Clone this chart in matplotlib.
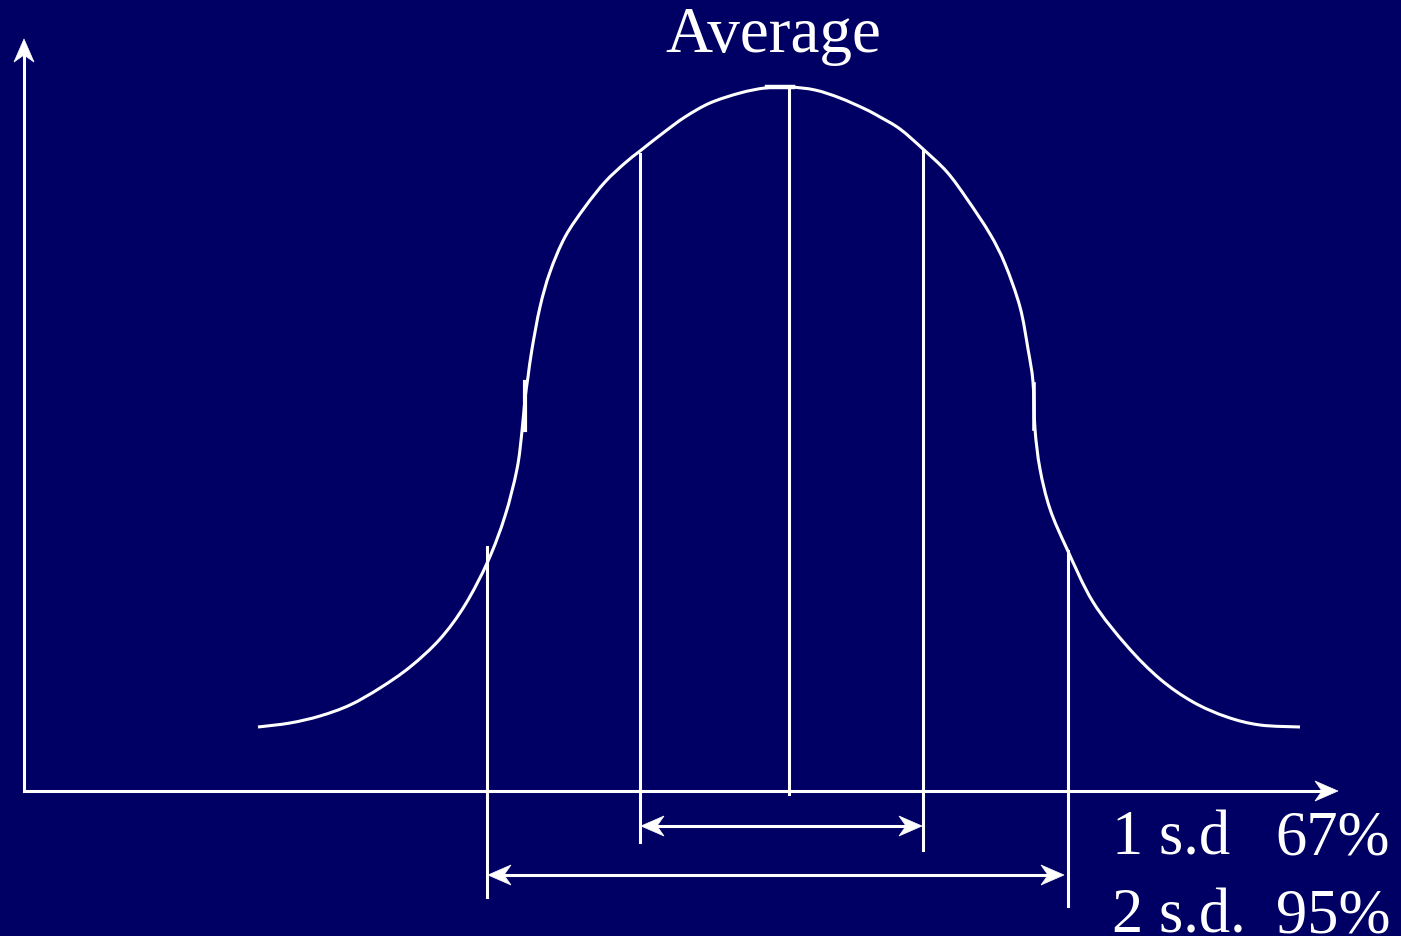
import matplotlib
matplotlib.use("Agg")
import matplotlib.pyplot as plt
from matplotlib.patches import Polygon, PathPatch
from matplotlib.path import Path

plt.rcParams['font.family'] = ['Liberation Serif', 'DejaVu Serif']

BG = '#000064'
FG = 'white'
LW = 2.2

# traced outline of the hand-drawn bell curve (x right, y down)
curve_x = [258, 290, 320, 350, 380, 410, 440, 465, 488, 505, 517, 522, 525,
           528, 532, 540, 550, 565, 585, 605, 625, 640, 663, 685, 710, 740,
           765, 789, 815, 840, 865, 880, 900, 923, 947, 967, 990, 1005, 1020,
           1028, 1033, 1035, 1040, 1050, 1067, 1093, 1127, 1160, 1193, 1227,
           1260, 1300]
curve_y = [728, 724, 717, 706, 689, 668, 640, 606, 562, 517, 470, 432, 400,
           378, 350, 308, 273, 238, 208, 183, 164, 152, 134, 118, 104, 94,
           89, 88, 91, 99, 110, 118, 130, 150, 173, 200, 235, 265, 308,
           350, 383, 430, 470, 510, 550, 603, 647, 680, 703, 718,
           726, 728]

# axes of the diagram
origin = (24, 792)
y_axis_top = 40
x_axis_end = 1338

# vertical markers: mean, one and two standard deviations
mean_x = 789
mean_span = (88, 795)
sd1_x = [640, 923]
sd1_top = [155, 152]
sd1_bottom = [843, 851]
sd2_x = [487, 1068]
sd2_top = [548, 552]
sd2_bottom = [898, 907]

# double-headed range arrows
sd1_arrow = (641, 922, 827)
sd2_arrow = (488, 1064, 876)

labels_left = ['1 s.d', '2 s.d.']
labels_right = ['67%', '95%']
label_base = [855, 933]


def smooth_path(xs, ys):
    # Catmull-Rom through the traced points, as cubic Bezier segments
    pts = list(zip(xs, ys))
    verts = [pts[0]]
    codes = [Path.MOVETO]
    n = len(pts)
    for i in range(n - 1):
        p0 = pts[max(i - 1, 0)]
        p1 = pts[i]
        p2 = pts[i + 1]
        p3 = pts[min(i + 2, n - 1)]
        c1 = (p1[0] + (p2[0] - p0[0]) / 6, p1[1] + (p2[1] - p0[1]) / 6)
        c2 = (p2[0] - (p3[0] - p1[0]) / 6, p2[1] - (p3[1] - p1[1]) / 6)
        verts += [c1, c2, p2]
        codes += [Path.CURVE4] * 3
    return Path(verts, codes)


def head(ax, tip, direction, length=23, half=10, notch=7):
    tx, ty = tip
    dx, dy = direction
    px, py = -dy, dx
    pts = [(tx, ty),
           (tx - dx * length + px * half, ty - dy * length + py * half),
           (tx - dx * (length - notch), ty - dy * (length - notch)),
           (tx - dx * length - px * half, ty - dy * length - py * half)]
    ax.add_patch(Polygon(pts, closed=True, facecolor=FG, edgecolor=FG,
                         lw=0.5, zorder=3))


fig = plt.figure(figsize=(14.01, 9.37), dpi=100, facecolor=BG)
ax = fig.add_axes([0, 0, 1, 1])
ax.set_facecolor(BG)
ax.set_xlim(0, 1401)
ax.set_ylim(937, 0)
ax.axis('off')

ax.add_patch(PathPatch(smooth_path(curve_x, curve_y), facecolor='none',
                       edgecolor=FG, lw=LW, capstyle='butt'))
# small flat cap at the peak and thickened joins on the flanks
ax.plot([767, 793], [88, 88], color=FG, lw=3.2)
ax.plot([525, 525], [383, 431], color=FG, lw=3.0)
ax.plot([1034, 1034], [385, 430], color=FG, lw=2.6)

# axes with arrowheads
ax.plot([origin[0], origin[0]], [origin[1], y_axis_top + 10], color=FG, lw=LW)
head(ax, (origin[0], y_axis_top), (0, -1))
ax.plot([origin[0], x_axis_end - 10], [origin[1], origin[1]], color=FG, lw=LW)
head(ax, (x_axis_end, origin[1]), (1, 0))

ax.plot([mean_x, mean_x], mean_span, color=FG, lw=LW)
for x, t, b in zip(sd1_x, sd1_top, sd1_bottom):
    ax.plot([x, x], [t, b], color=FG, lw=LW)
for x, t, b in zip(sd2_x, sd2_top, sd2_bottom):
    ax.plot([x, x], [t, b], color=FG, lw=LW)

for x0, x1, y in (sd1_arrow, sd2_arrow):
    ax.plot([x0 + 10, x1 - 10], [y, y], color=FG, lw=LW)
    head(ax, (x0, y), (-1, 0))
    head(ax, (x1, y), (1, 0))

ax.text(773, 52, 'Average', color=FG, fontsize=47, ha='center',
        va='baseline')
for txt, pct, yb in zip(labels_left, labels_right, label_base):
    ax.text(1112, yb, txt, color=FG, fontsize=45, ha='left', va='baseline')
    ax.text(1390, yb, pct, color=FG, fontsize=45, ha='right', va='baseline')

fig.savefig('out.png', dpi=100, facecolor=BG)
